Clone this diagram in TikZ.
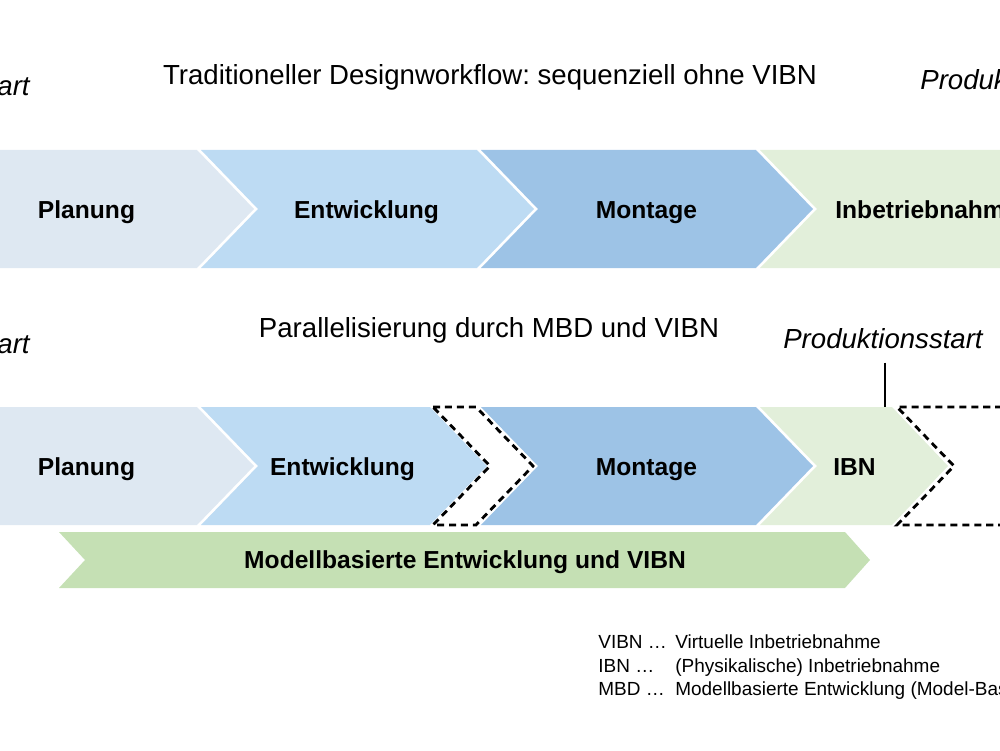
\documentclass[tikz,border=0pt]{standalone}
\usepackage{fontspec}
\setmainfont{Liberation Sans}
\frenchspacing

\definecolor{planblue}{HTML}{DEE8F2}
\definecolor{devblue}{HTML}{BDDBF3}
\definecolor{mountblue}{HTML}{9DC3E6}
\definecolor{ibngreen}{HTML}{E2EFDA}
\definecolor{bandgreen}{HTML}{C5E0B4}

\tikzset{
  heading/.style={font=\fontsize{15.7}{18}\selectfont, inner sep=0pt},
  milestone/.style={font=\fontsize{15.7}{18}\selectfont\itshape, inner sep=0pt},
  phaselabel/.style={font=\fontsize{14}{16}\selectfont\bfseries, inner sep=0pt},
  legendtext/.style={font=\fontsize{10.8}{13}\selectfont, inner sep=0pt, anchor=base west},
  gapbox/.style={fill=white, draw=black, line width=1.6pt, dash pattern=on 4pt off 2.8pt},
  marker/.style={line width=1.1pt}
}

\begin{document}
\begin{tikzpicture}[x=2mm, y=2mm]
        % Canvas
        \useasboundingbox (0,0) rectangle (100,75);
        \clip (0,0) rectangle (100,75);

        % Traditional workflow: headline and milestones
        \node[heading, anchor=base] (tradtitle) at (49.0,66.5) {Traditioneller Designworkflow: sequenziell ohne VIBN};
        \node[milestone, anchor=base east] (tradstart) at (3.0,65.4) {Produktionsstart};
        \node[milestone, anchor=base west] (tradend) at (92.0,66.0) {Produktionsstart};

        % Traditional workflow: phases
        \fill[planblue] (-5,60) -- (19.7,60) -- (25.4,54.1) -- (19.7,48.2) -- (-5,48.2) -- cycle;
        \fill[devblue] (20.1,60) -- (47.7,60) -- (53.4,54.1) -- (47.7,48.2) -- (20.1,48.2) -- (25.8,54.1) -- cycle;
        \fill[mountblue] (48.1,60) -- (75.6,60) -- (81.3,54.1) -- (75.6,48.2) -- (48.1,48.2) -- (53.8,54.1) -- cycle;
        \fill[ibngreen] (76.0,60) -- (105,60) -- (105,48.2) -- (76.0,48.2) -- (81.7,54.1) -- cycle;

        \node[phaselabel, anchor=base] (tradplan) at (8.65,53.2) {Planung};
        \node[phaselabel, anchor=base] (tradedev) at (36.65,53.2) {Entwicklung};
        \node[phaselabel, anchor=base] (tradmount) at (64.65,53.2) {Montage};
        \node[phaselabel, anchor=base west] (tradibn) at (83.5,53.2) {Inbetriebnahme};

        % Parallel workflow: headline and milestones
        \node[heading, anchor=base] (partitle) at (48.9,41.3) {Parallelisierung durch MBD und VIBN};
        \node[milestone, anchor=base east] (parstart) at (3.0,39.7) {Produktionsstart};
        \node[milestone, anchor=base] (parend) at (88.3,40.2) {Produktionsstart};

        % Parallel workflow: phases
        \fill[planblue] (-5,34.3) -- (19.7,34.3) -- (25.4,28.4) -- (19.7,22.5) -- (-5,22.5) -- cycle;
        \fill[devblue] (20.1,34.3) -- (43.0,34.3) -- (48.7,28.4) -- (43.0,22.5) -- (20.1,22.5) -- (25.8,28.4) -- cycle;
        \fill[mountblue] (48.1,34.3) -- (75.6,34.3) -- (81.3,28.4) -- (75.6,22.5) -- (48.1,22.5) -- (53.8,28.4) -- cycle;
        \fill[ibngreen] (76.0,34.3) -- (89.2,34.3) -- (94.8,28.4) -- (89.2,22.5) -- (76.0,22.5) -- (81.7,28.4) -- cycle;

        % time saved (dashed gaps)
        \draw[gapbox] (43.3,34.3) -- (47.6,34.3) -- (53.3,28.4) -- (47.6,22.5) -- (43.3,22.5) -- (49.0,28.4) -- cycle;
        \draw[gapbox] (105,34.3) -- (89.7,34.3) -- (95.4,28.4) -- (89.7,22.5) -- (105,22.5);

        \node[phaselabel, anchor=base] (parplan) at (8.65,27.5) {Planung};
        \node[phaselabel, anchor=base] (pardev) at (34.25,27.5) {Entwicklung};
        \node[phaselabel, anchor=base] (parmount) at (64.65,27.5) {Montage};
        \node[phaselabel, anchor=base] (paribn) at (85.45,27.5) {IBN};

        % Production start mark
        \coordinate (markfoot) at (88.5,34.3);
        \draw[marker] (parend.south -| markfoot) ++(0,-1.4) -- (markfoot);

        % Model based development band
        \fill[bandgreen] (5.9,21.8) -- (84.5,21.8) -- (87.0,19.0) -- (84.5,16.2) -- (5.9,16.2) -- (8.5,19.0) -- cycle;
        \node[phaselabel, anchor=base] (mbdband) at (46.5,18.2) {Modellbasierte Entwicklung und VIBN};

        % Legend
        \node[legendtext] (legvibn) at (59.8,10.2) {\makebox[15.4mm][l]{VIBN …}Virtuelle Inbetriebnahme};
        \node[legendtext] (legibn) at (59.8,7.8) {\makebox[15.4mm][l]{IBN …}(Physikalische) Inbetriebnahme};
        \node[legendtext] (legmbd) at (59.8,5.5) {\makebox[15.4mm][l]{MBD …}Modellbasierte Entwicklung (Model-Based Design)};
    \end{tikzpicture}
\end{document}
